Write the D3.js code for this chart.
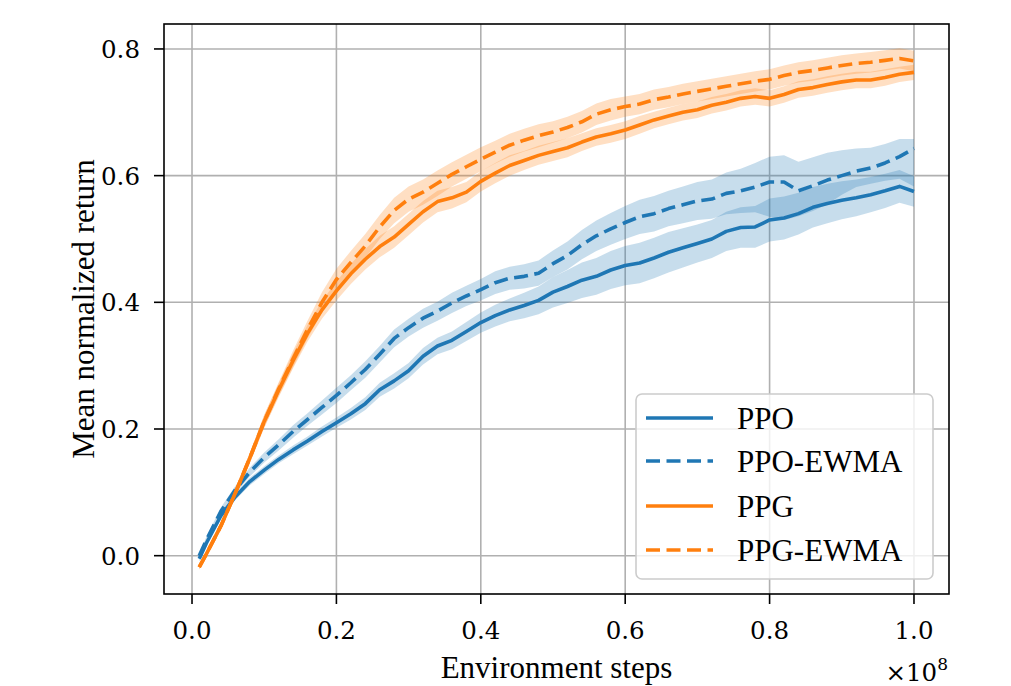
<!DOCTYPE html>
<html><head><meta charset="utf-8">
<script src="https://cdn.jsdelivr.net/npm/d3@7"></script>
<style>body{margin:0;background:#fff}</style>
</head><body><svg id="c" width="1011" height="686"></svg>
<script>
const steps = [0.01,0.02,0.04,0.06,0.08,0.10,0.12,0.14,0.16,0.18,0.20,0.22,0.24,0.26,0.28,0.30,0.32,0.34,0.36,0.38,0.40,0.42,0.44,0.46,0.48,0.50,0.52,0.54,0.56,0.58,0.60,0.62,0.64,0.66,0.68,0.70,0.72,0.74,0.76,0.78,0.80,0.82,0.84,0.86,0.88,0.90,0.92,0.94,0.96,0.98,1.00];
const ppo = [-0.005,0.020,0.063,0.093,0.117,0.135,0.152,0.167,0.181,0.196,0.210,0.224,0.240,0.262,0.276,0.292,0.315,0.331,0.340,0.354,0.368,0.379,0.388,0.395,0.403,0.416,0.425,0.435,0.441,0.451,0.458,0.462,0.470,0.479,0.486,0.493,0.500,0.512,0.518,0.519,0.530,0.533,0.540,0.550,0.556,0.561,0.565,0.570,0.576,0.583,0.575];
const ppoErr = [0.004,0.004,0.005,0.005,0.006,0.006,0.006,0.007,0.007,0.008,0.008,0.009,0.010,0.011,0.012,0.012,0.013,0.013,0.014,0.015,0.016,0.017,0.018,0.020,0.022,0.024,0.026,0.028,0.029,0.030,0.031,0.032,0.032,0.032,0.031,0.030,0.030,0.031,0.032,0.033,0.034,0.034,0.033,0.032,0.031,0.030,0.029,0.028,0.027,0.026,0.024];
const ppoEwma = [0.000,0.025,0.070,0.104,0.132,0.155,0.175,0.196,0.215,0.234,0.253,0.273,0.294,0.318,0.343,0.360,0.375,0.386,0.399,0.410,0.420,0.431,0.438,0.441,0.446,0.461,0.474,0.491,0.505,0.516,0.526,0.535,0.540,0.548,0.554,0.560,0.563,0.572,0.576,0.582,0.590,0.590,0.576,0.584,0.593,0.600,0.607,0.612,0.620,0.630,0.643];
const ppoEwmaErrHi = [0.004,0.005,0.006,0.006,0.007,0.008,0.009,0.010,0.010,0.011,0.012,0.012,0.013,0.013,0.014,0.014,0.015,0.015,0.016,0.016,0.017,0.018,0.018,0.019,0.020,0.021,0.022,0.023,0.024,0.025,0.026,0.027,0.028,0.028,0.029,0.030,0.031,0.033,0.035,0.038,0.040,0.042,0.046,0.045,0.043,0.040,0.036,0.032,0.030,0.028,0.015];
const ppoEwmaErrLo = [0.004,0.005,0.006,0.006,0.007,0.008,0.009,0.010,0.010,0.011,0.012,0.012,0.013,0.013,0.014,0.014,0.015,0.015,0.016,0.016,0.017,0.018,0.018,0.019,0.020,0.021,0.022,0.023,0.024,0.025,0.026,0.027,0.028,0.028,0.029,0.030,0.031,0.033,0.035,0.040,0.055,0.060,0.040,0.040,0.038,0.030,0.025,0.025,0.028,0.035,0.060];
const ppg = [-0.018,0.003,0.047,0.099,0.154,0.212,0.261,0.308,0.351,0.388,0.418,0.445,0.468,0.488,0.503,0.523,0.543,0.559,0.565,0.574,0.591,0.604,0.616,0.624,0.632,0.638,0.644,0.653,0.661,0.666,0.672,0.680,0.688,0.694,0.700,0.704,0.711,0.716,0.722,0.725,0.722,0.728,0.736,0.739,0.744,0.748,0.751,0.751,0.755,0.760,0.763];
const ppgErr = [0.004,0.005,0.006,0.007,0.008,0.010,0.011,0.012,0.013,0.014,0.015,0.016,0.016,0.017,0.017,0.017,0.017,0.017,0.017,0.016,0.016,0.016,0.016,0.015,0.015,0.015,0.015,0.014,0.014,0.014,0.014,0.014,0.013,0.013,0.013,0.013,0.013,0.013,0.013,0.013,0.013,0.013,0.013,0.013,0.013,0.013,0.013,0.013,0.013,0.012,0.012];
const ppgEwma = [-0.018,0.003,0.047,0.099,0.154,0.212,0.263,0.311,0.357,0.400,0.436,0.463,0.489,0.519,0.545,0.563,0.574,0.588,0.602,0.614,0.626,0.637,0.648,0.656,0.663,0.669,0.676,0.685,0.697,0.704,0.709,0.713,0.720,0.724,0.729,0.733,0.737,0.741,0.745,0.749,0.752,0.758,0.763,0.766,0.770,0.774,0.777,0.779,0.782,0.785,0.781];
const ppgEwmaErr = [0.004,0.005,0.006,0.007,0.008,0.010,0.011,0.013,0.014,0.016,0.017,0.018,0.019,0.019,0.020,0.020,0.020,0.020,0.019,0.019,0.019,0.018,0.018,0.018,0.018,0.017,0.017,0.017,0.017,0.017,0.016,0.016,0.016,0.016,0.016,0.016,0.016,0.016,0.016,0.016,0.016,0.016,0.016,0.016,0.016,0.016,0.016,0.016,0.016,0.016,0.016];
const xTicks = [0.0,0.2,0.4,0.6,0.8,1.0];
const yTicks = [0.0,0.2,0.4,0.6,0.8];
const labels = ["PPO","PPO-EWMA","PPG","PPG-EWMA"];

const series = [
  {name:labels[0], y:ppo, lo:ppoErr, hi:ppoErr, color:"#1f77b4", dash:null},
  {name:labels[1], y:ppoEwma, lo:ppoEwmaErrLo, hi:ppoEwmaErrHi, color:"#1f77b4", dash:"14,6.5"},
  {name:labels[2], y:ppg, lo:ppgErr, hi:ppgErr, color:"#ff7f0e", dash:null},
  {name:labels[3], y:ppgEwma, lo:ppgEwmaErr, hi:ppgEwmaErr, color:"#ff7f0e", dash:"14,6.5"}
];

const L=164, R=949, T=24, B=594;
const x = d3.scaleLinear().domain([-0.0388,1.0485]).range([L,R]);
const y = d3.scaleLinear().domain([-0.0605,0.8394]).range([B,T]);
const svg = d3.select("#c");
const tickFont = "'DejaVu Serif', serif";
const labFont = "'Liberation Serif', 'Times New Roman', serif";

// grid
const g = svg.append("g");
g.selectAll(".gx").data(xTicks).enter().append("line")
  .attr("x1",d=>x(d)).attr("x2",d=>x(d)).attr("y1",T).attr("y2",B)
  .attr("stroke","#b0b0b0").attr("stroke-width",1.6);
g.selectAll(".gy").data(yTicks).enter().append("line")
  .attr("y1",d=>y(d)).attr("y2",d=>y(d)).attr("x1",L).attr("x2",R)
  .attr("stroke","#b0b0b0").attr("stroke-width",1.6);

svg.append("clipPath").attr("id","cp").append("rect")
  .attr("x",L).attr("y",T).attr("width",R-L).attr("height",B-T);
const plot = svg.append("g").attr("clip-path","url(#cp)");

series.forEach(s=>{
  const pts = steps.map((t,i)=>({t, m:s.y[i], lo:s.y[i]-s.lo[i], hi:s.y[i]+s.hi[i]}));
  plot.append("path").datum(pts)
    .attr("d", d3.area().x(d=>x(d.t)).y0(d=>y(d.lo)).y1(d=>y(d.hi)))
    .attr("fill", s.color).attr("fill-opacity",0.25).attr("stroke","none");
  plot.append("path").datum(pts)
    .attr("d", d3.line().x(d=>x(d.t)).y(d=>y(d.m)))
    .attr("fill","none").attr("stroke",s.color).attr("stroke-width",3.6)
    .attr("stroke-dasharray", s.dash).attr("stroke-linejoin","round");
});

// spines
svg.append("rect").attr("x",L).attr("y",T).attr("width",R-L).attr("height",B-T)
  .attr("fill","none").attr("stroke","#000").attr("stroke-width",1.6);

// axes ticks & labels
const xAxis = svg.append("g");
xTicks.forEach(t=>{
  xAxis.append("line").attr("x1",x(t)).attr("x2",x(t)).attr("y1",B).attr("y2",B+10)
    .attr("stroke","#000").attr("stroke-width",1.6);
  xAxis.append("text").attr("x",x(t)).attr("y",639).attr("text-anchor","middle")
    .attr("font-family",tickFont).attr("font-size",24.5).attr("fill","#000").text(t.toFixed(1));
});
const yAxis = svg.append("g");
yTicks.forEach(t=>{
  yAxis.append("line").attr("x1",L-10).attr("x2",L).attr("y1",y(t)).attr("y2",y(t))
    .attr("stroke","#000").attr("stroke-width",1.6);
  yAxis.append("text").attr("x",140).attr("y",y(t)+9).attr("text-anchor","end")
    .attr("font-family",tickFont).attr("font-size",24.5).attr("fill","#000").text(t.toFixed(1));
});

svg.append("text").attr("x",(L+R)/2).attr("y",678).attr("text-anchor","middle")
  .attr("font-family",labFont).attr("font-size",31).attr("fill","#000").text("Environment steps");
svg.append("text").attr("transform",`translate(94,${(T+B)/2}) rotate(-90)`).attr("text-anchor","middle")
  .attr("font-family",labFont).attr("font-size",31).attr("fill","#000").text("Mean normalized return");

const off = svg.append("text").attr("x",948).attr("y",681).attr("text-anchor","end")
  .attr("font-family",tickFont).attr("font-size",24.5).attr("fill","#000");
off.append("tspan").text("×10");
off.append("tspan").attr("dy",-11).attr("font-size",17).text("8");

// legend
const lg = svg.append("g");
lg.append("rect").attr("x",636).attr("y",394).attr("width",297).attr("height",185).attr("rx",6)
  .attr("fill","#fff").attr("fill-opacity",0.8).attr("stroke","#cccccc").attr("stroke-width",1.6);
const rowY = [418,461,506,550];
series.forEach((s,i)=>{
  lg.append("line").attr("x1",646).attr("x2",713).attr("y1",rowY[i]).attr("y2",rowY[i])
    .attr("stroke",s.color).attr("stroke-width",3.6).attr("stroke-dasharray",s.dash);
  lg.append("text").attr("x",737).attr("y",rowY[i]+10.5)
    .attr("font-family",labFont).attr("font-size",31).attr("fill","#000").text(s.name);
});
</script></body></html>
